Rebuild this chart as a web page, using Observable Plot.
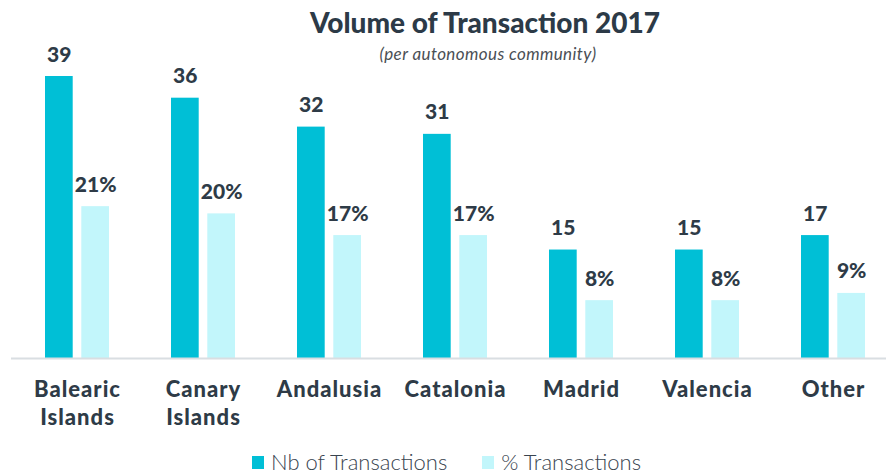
<!DOCTYPE html>
<html>
<head>
<meta charset="utf-8">
<script src="https://cdn.jsdelivr.net/npm/d3@7"></script>
<script src="https://cdn.jsdelivr.net/npm/@observablehq/plot@0.6"></script>
<style>
  html, body { margin: 0; padding: 0; background: #fff; }
  #wrap { position: relative; width: 886px; height: 475px; overflow: hidden; font-family: Lato, "Open Sans", sans-serif; }
  #title { position: absolute; left: 0; width: 970px; top: 8px; text-align: center; font-size: 28px; line-height: 28px; font-weight: 900; color: #2c3a47; }
  #subtitle { position: absolute; left: 0; width: 976px; top: 45px; text-align: center; font-size: 17px; line-height: 17px; letter-spacing: 0.4px; font-style: italic; color: #4a4f55; }
  #chart { position: absolute; left: 0; top: 0; }
  #legend { position: absolute; left: 252px; top: 451px; display: flex; align-items: center; font-size: 22px; line-height: 22px; font-weight: 300; color: #39444f; white-space: nowrap; }
  .sw { display: inline-block; width: 12px; height: 13px; margin-right: 7px; }
  .item { display: flex; align-items: center; margin-right: 35px; }
  g[aria-label="x-axis tick label"] text { letter-spacing: 1px; }
</style>
</head>
<body>
<div id="wrap">
  <div id="chart"></div>
  <div id="title"></div>
  <div id="subtitle"></div>
  <div id="legend"></div>
</div>
<script>
const titleText = "Volume of Transaction 2017";
const subtitleText = "(per autonomous community)";
const regions = ["Balearic\nIslands", "Canary\nIslands", "Andalusia", "Catalonia", "Madrid", "Valencia", "Other"];
const nbTransactions = [39, 36, 32, 31, 15, 15, 17];
const pctTransactions = [21, 20, 17, 17, 8, 8, 9];
const seriesNames = ["Nb of Transactions", "% Transactions"];
const seriesColors = ["#00bfd6", "#c2f6fb"];

const rows = regions.map((r, i) => ({region: r, nb: nbTransactions[i], pct: pctTransactions[i]}));

document.getElementById("title").textContent = titleText;
document.getElementById("subtitle").textContent = subtitleText;

const chart = Plot.plot({
  width: 886,
  height: 445,
  marginLeft: 11,
  marginRight: 0,
  marginTop: 0,
  marginBottom: 87,
  style: {fontFamily: "Lato, 'Open Sans', sans-serif", color: "#2e3b47", background: "transparent"},
  x: {domain: regions, range: [11, 898], padding: 0, axis: null},
  y: {domain: [0, 39], range: [358, 76], axis: null},
  marks: [
    Plot.barY(rows, {x: "region", y: "nb", fill: seriesColors[0], insetLeft: 31, insetRight: 67.3}),
    Plot.barY(rows, {x: "region", y: "pct", fill: seriesColors[1], insetLeft: 67.3, insetRight: 31}),
    Plot.ruleY([0], {stroke: "#d9dee2", strokeWidth: 2}),
    Plot.text(rows, {x: "region", y: "nb", text: d => String(d.nb), dx: -18.2, dy: -15, lineAnchor: "bottom", fontSize: 21, fontWeight: 900, fill: "#2e3b47"}),
    Plot.text(rows, {x: "region", y: "pct", text: d => d.pct + "%", dx: 18.2, dy: -15, lineAnchor: "bottom", fontSize: 21, fontWeight: 900, fill: "#2e3b47"}),
    Plot.axisX({domain: regions, tickSize: 0, tickPadding: 19, fontSize: 22, fontWeight: 900, lineHeight: 1.27, label: null, fill: "#2e3b47"})
  ]
});
document.getElementById("chart").appendChild(chart);

const legend = document.getElementById("legend");
seriesNames.forEach((name, i) => {
  const item = document.createElement("span");
  item.className = "item";
  const sw = document.createElement("span");
  sw.className = "sw";
  sw.style.background = seriesColors[i];
  item.appendChild(sw);
  item.appendChild(document.createTextNode(name));
  legend.appendChild(item);
});
</script>
</body>
</html>
